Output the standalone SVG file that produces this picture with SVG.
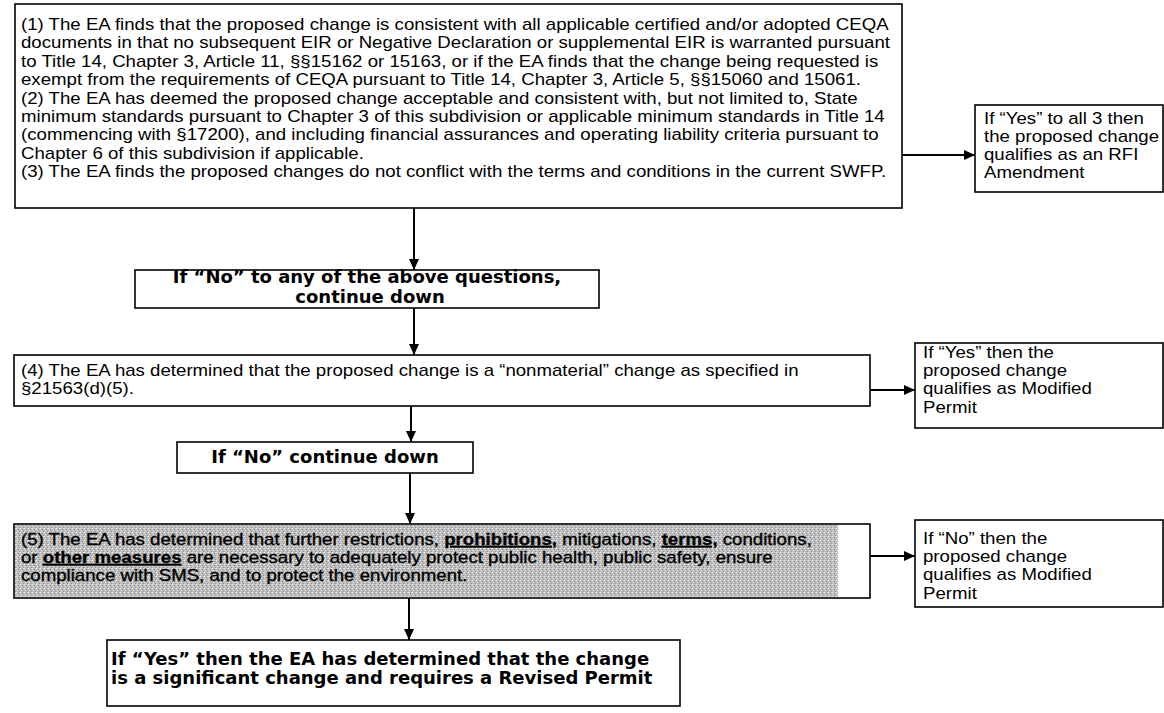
<svg xmlns="http://www.w3.org/2000/svg" width="1164" height="713" viewBox="0 0 1164 713">
<style>
.box{fill:#fff;stroke:#000;stroke-width:1.6}
.shade{stroke:#000;stroke-width:1.6}
.t{font-family:"Liberation Sans",Arial,sans-serif;font-size:16px;fill:#000}
.b{font-family:"DejaVu Sans","Verdana",sans-serif;font-weight:bold;font-size:18px;fill:#000}
.dk{stroke:#000;stroke-width:0.35}
.u{font-weight:bold;text-decoration:underline}
.con{stroke:#000;stroke-width:2;fill:none;marker-end:url(#ah)}
</style>
<defs>
<marker id="ah" markerUnits="userSpaceOnUse" markerWidth="11" markerHeight="10" refX="11" refY="5" orient="auto">
<path d="M0,0 L11,5 L0,10 z" fill="#000"/>
</marker>
<pattern id="stip" width="4" height="4" patternUnits="userSpaceOnUse">
<rect width="4" height="4" fill="#bdbdbd"/>
<rect x="0" y="0" width="1" height="1" fill="#efefef"/>
<rect x="2" y="1" width="1" height="1" fill="#858585"/>
<rect x="1" y="2" width="1" height="1" fill="#e2e2e2"/>
<rect x="3" y="3" width="1" height="1" fill="#929292"/>
<rect x="3" y="0" width="1" height="1" fill="#d6d6d6"/>
</pattern>
</defs>

<g id="connectors">
<line class="con" x1="414" y1="208" x2="414" y2="270"/>
<line class="con" x1="414" y1="308" x2="414" y2="355"/>
<line class="con" x1="411" y1="406" x2="411" y2="442"/>
<line class="con" x1="410" y1="473" x2="410" y2="524"/>
<line class="con" x1="409" y1="598" x2="409" y2="640"/>
<line class="con" x1="902" y1="155" x2="975" y2="155"/>
<line class="con" x1="870" y1="390" x2="915" y2="390"/>
<line class="con" x1="870" y1="556" x2="915" y2="556"/>
</g>

<g id="criteria123">
<rect class="box" x="15" y="4" width="887" height="204"/>
<g class="t" transform="matrix(1.1656 0 0 1 21 0)">
<text x="0" y="30">(1) The EA finds that the proposed change is consistent with all applicable certified and/or adopted CEQA</text>
<text x="0" y="48.4">documents in that no subsequent EIR or Negative Declaration or supplemental EIR is warranted pursuant</text>
<text x="0" y="66.8">to Title 14, Chapter 3, Article 11, §§15162 or 15163, or if the EA finds that the change being requested is</text>
<text x="0" y="85.2">exempt from the requirements of CEQA pursuant to Title 14, Chapter 3, Article 5, §§15060 and 15061.</text>
<text x="0" y="103.6">(2) The EA has deemed the proposed change acceptable and consistent with, but not limited to, State</text>
<text x="0" y="122">minimum standards pursuant to Chapter 3 of this subdivision or applicable minimum standards in Title 14</text>
<text x="0" y="140.4">(commencing with §17200), and including financial assurances and operating liability criteria pursuant to</text>
<text x="0" y="158.8">Chapter 6 of this subdivision if applicable.</text>
<text x="0" y="177.2">(3) The EA finds the proposed changes do not conflict with the terms and conditions in the current SWFP.</text>
</g>
</g>

<g id="rfi">
<rect class="box" x="975" y="105" width="188" height="87"/>
<g class="t" transform="matrix(1.1656 0 0 1 984 0)">
<text x="0" y="124">If “Yes” to all 3 then</text>
<text x="0" y="142">the proposed change</text>
<text x="0" y="160">qualifies as an RFI</text>
<text x="0" y="178">Amendment</text>
</g>
</g>

<g id="no-any">
<rect class="box" x="135" y="270" width="464" height="38"/>
<text class="b" x="367" y="283" text-anchor="middle">If “No” to any of the above questions,</text>
<text class="b" x="370" y="303" text-anchor="middle">continue down</text>
</g>

<g id="criterion4">
<rect class="box" x="14" y="355" width="856" height="51"/>
<g class="t" transform="matrix(1.1656 0 0 1 21 0)">
<text x="0" y="376">(4) The EA has determined that the proposed change is a “nonmaterial” change as specified in</text>
<text x="0" y="394.5">§21563(d)(5).</text>
</g>
</g>

<g id="modified1">
<rect class="box" x="915" y="343" width="248" height="85"/>
<g class="t" transform="matrix(1.1656 0 0 1 923 0)">
<text x="0" y="358">If “Yes” then the</text>
<text x="0" y="376">proposed change</text>
<text x="0" y="394.5">qualifies as Modified</text>
<text x="0" y="413">Permit</text>
</g>
</g>

<g id="no-continue">
<rect class="box" x="177" y="442" width="296" height="31"/>
<text class="b" x="325" y="463" text-anchor="middle" font-size="17">If “No” continue down</text>
</g>

<g id="criterion5">
<rect class="shade" x="14" y="524" width="856" height="74" fill="#fff"/>
<rect x="15" y="525" width="823" height="72" fill="url(#stip)"/>
<g class="t dk" transform="matrix(1.1656 0 0 1 21 0)">
<text x="0" y="545">(5)  The EA has determined that further restrictions, <tspan class="u">prohibitions,</tspan> mitigations, <tspan class="u">terms,</tspan> conditions,</text>
<text x="0" y="563">or <tspan class="u">other measures</tspan> are necessary to adequately protect public health, public safety, ensure</text>
<text x="0" y="581">compliance with SMS, and to protect the environment.</text>
</g>
</g>

<g id="modified2">
<rect class="box" x="915" y="520" width="248" height="87"/>
<g class="t" transform="matrix(1.1656 0 0 1 923 0)">
<text x="0" y="544">If “No” then the</text>
<text x="0" y="562">proposed change</text>
<text x="0" y="580.5">qualifies as Modified</text>
<text x="0" y="599">Permit</text>
</g>
</g>

<g id="revised">
<rect class="box" x="107" y="640" width="573" height="66"/>
<text class="b" x="111" y="665">If “Yes” then the EA has determined that the change</text>
<text class="b" x="111" y="684">is a significant change and requires a Revised Permit</text>
</g>
</svg>
